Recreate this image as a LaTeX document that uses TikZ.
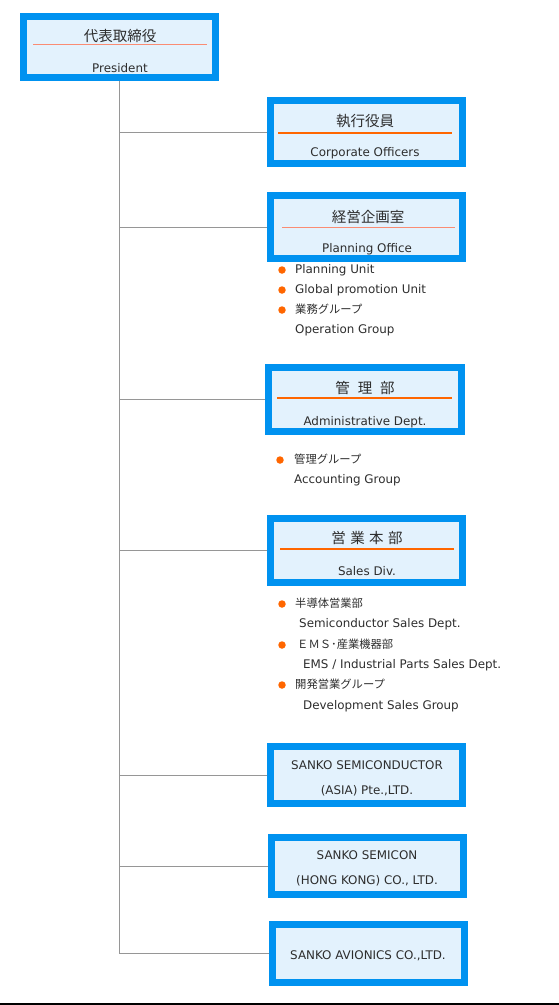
\documentclass[tikz,border=0pt]{standalone}
\usepackage{fontspec}
\setmainfont{DejaVu Sans}
\newfontfamily\jpfont{Noto Sans CJK JP}
\definecolor{boxblue}{RGB}{0,146,240}
\definecolor{boxfill}{RGB}{227,242,253}
\definecolor{ruleorange}{RGB}{255,102,0}
\definecolor{rulesalmon}{RGB}{250,140,115}
\definecolor{txtgray}{RGB}{45,45,45}
\definecolor{linegray}{RGB}{150,150,150}
\begin{document}
\begin{tikzpicture}[x=1pt,y=-1pt,
  orgbox/.style={draw=boxblue, line width=7pt, fill=boxfill, minimum width=192pt, inner sep=0pt},
  jptitle/.style={font=\jpfont\fontsize{14.5}{16}\selectfont, text=txtgray, inner sep=0pt},
  entext/.style={font=\fontsize{11.9}{13}\selectfont, text=txtgray, inner sep=0pt, text height=8.5pt, text depth=1pt},
  item/.style={entext, anchor=west},
  jpitem/.style={item, font=\jpfont\fontsize{11.3}{13}\selectfont},
  dot/.style={circle, fill=ruleorange, inner sep=0pt, minimum size=7.5pt},
  conn/.style={draw=linegray, line width=1pt}]

% Rahmen des Bildes
\useasboundingbox (0,0) rectangle (559,1005);

% Kaesten
\node[orgbox, minimum height=61pt] (pres) at (119.5,47) {};
\node[orgbox, minimum height=63pt] (exec) at (366,132) {};
\node[orgbox, minimum height=63pt] (plan) at (366.5,227) {};
\node[orgbox, minimum height=64pt, minimum width=193pt] (admin) at (365,399.5) {};
\node[orgbox, minimum height=64pt] (sales) at (366,550.5) {};
\node[orgbox, minimum height=57pt] (asia) at (366,775) {};
\node[orgbox, minimum height=57pt] (hk) at (367.5,866) {};
\node[orgbox, minimum height=58pt] (avio) at (368.5,953.5) {};

% Verbindungslinien
\draw[conn] (pres.south) |- (avio.west);
\foreach \b in {exec,plan,admin,sales,asia,hk}
  \draw[conn] (pres.south |- \b.west) -- (\b.west);

% Titel und Trennlinien
\node[jptitle] (presjp) at (120,36) {代表取締役};
\draw[rulesalmon, line width=0.8pt] (33,44) -- (207,44);
\node[entext] (presen) at (120,69) {President};

\node[jptitle] (execjp) at (365,121) {執行役員};
\draw[ruleorange, line width=1.2pt] (278,133) -- (452,133);
\node[entext] (execen) at (365,153) {Corporate Officers};

\node[jptitle] (planjp) at (368,217) {経営企画室};
\draw[rulesalmon, line width=0.8pt] (282,227) -- (455,227);
\node[entext] (planen) at (367,249) {Planning Office};

\node[jptitle] (adminjp) at (365,388) {管\hspace{0.55em}理\hspace{0.55em}部};
\draw[ruleorange, line width=1.8pt] (277,398) -- (452,398);
\node[entext] (adminen) at (365,422) {Administrative Dept.};

\node[jptitle] (salesjp) at (367,538) {営\hspace{0.3em}業\hspace{0.3em}本\hspace{0.3em}部};
\draw[ruleorange, line width=1.8pt] (280,549) -- (454,549);
\node[entext] (salesen) at (367,572) {Sales Div.};

\node[entext] (asia1) at (367,766) {SANKO SEMICONDUCTOR};
\node[entext] (asia2) at (367,791) {(ASIA) Pte.,LTD.};
\node[entext] (hk1) at (367,856) {SANKO SEMICON};
\node[entext] (hk2) at (367,881) {(HONG KONG) CO., LTD.};
\node[entext] (avio1) at (368,956) {SANKO AVIONICS CO.,LTD.};

% Aufzaehlungen
\node[dot] (d1) at (282,270) {};
\node[item] (pu) at (295,270) {Planning Unit};
\node[dot] (d2) at (282,290) {};
\node[item] (gpu) at (295,290) {Global promotion Unit};
\node[dot] (d3) at (282,310) {};
\node[jpitem] (opjp) at (295,310) {業務グループ};
\node[item] (open) at (295,330) {Operation Group};

\node[dot] (d4) at (280,460) {};
\node[jpitem] (acjp) at (294,460) {管理グループ};
\node[item] (acen) at (294,480) {Accounting Group};

\node[dot] (d5) at (282,604) {};
\node[jpitem] (semjp) at (295,604) {半導体営業部};
\node[item] (semen) at (299,624) {Semiconductor Sales Dept.};
\node[dot] (d6) at (282,645) {};
\node[jpitem] (emsjp) at (297,645) {ＥＭＳ･産業機器部};
\node[item] (emsen) at (303,665) {EMS / Industrial Parts Sales Dept.};
\node[dot] (d7) at (282,685) {};
\node[jpitem] (devjp) at (295,685) {開発営業グループ};
\node[item] (deven) at (303,706) {Development Sales Group};

% untere Linie
\draw[line width=1.5pt] (0,1004) -- (559,1004);
\end{tikzpicture}
\end{document}
